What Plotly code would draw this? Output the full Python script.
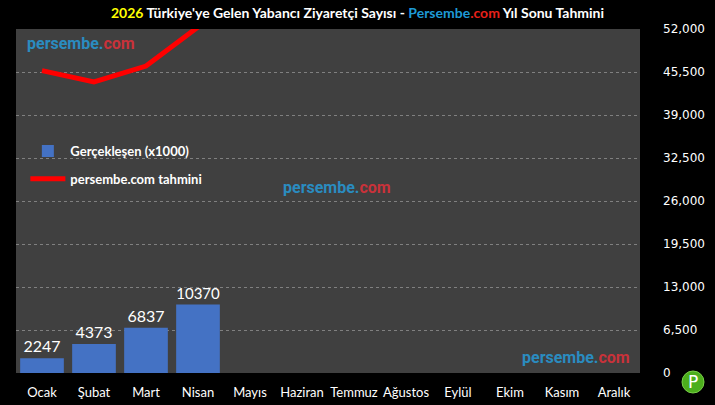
import plotly.graph_objects as go

months = ["Ocak", "Şubat", "Mart", "Nisan", "Mayıs", "Haziran", "Temmuz",
          "Ağustos", "Eylül", "Ekim", "Kasım", "Aralık"]
actual = [2247, 4373, 6837, 10370]
forecast = [45700, 44000, 46400, 52300]
y_ticks = [0, 6500, 13000, 19500, 26000, 32500, 39000, 45500, 52000]

FONT = "Lato, Roboto, sans-serif"

fig = go.Figure()
fig.add_trace(go.Bar(
    x=months[:len(actual)], y=actual, name="Gerçekleşen (x1000)",
    marker=dict(color="#4472c4", line=dict(width=0)),
    text=[str(v) for v in actual], textposition="outside",
    textfont=dict(color="white", size=16, family=FONT),
    cliponaxis=False, legendgroup="a",
))
fig.add_trace(go.Scatter(
    x=months[:len(forecast)], y=forecast, name="persembe.com tahmini",
    mode="lines", line=dict(color="#ff0000", width=5), legendgroup="b",
))

title_html = ("<b><span style='color:#ffff00'>2026</span> Türkiye'ye Gelen Yabancı Ziyaretçi Sayısı - "
              "<span style='color:#1e9ad6'>Persembe</span><span style='color:#e8201a'>.com</span>"
              " Yıl Sonu Tahmini</b>")

wm = "<b><span style='color:#2a8cc0'>persembe.</span><span style='color:#c8323a'>com</span></b>"

fig.update_layout(
    width=715, height=405,
    paper_bgcolor="black", plot_bgcolor="#404040",
    margin=dict(l=16, r=75, t=29, b=32),
    title=dict(text=title_html, x=0.5, xanchor="center", y=1 - 13 / 405, yanchor="middle",
               font=dict(color="white", size=14, family=FONT)),
    bargap=0.16,
    showlegend=True,
    legend=dict(x=0.015, y=(373 - 136) / 344, xanchor="left", yanchor="top",
                bgcolor="rgba(0,0,0,0)", traceorder="grouped", tracegroupgap=8,
                font=dict(color="white", size=13, family=FONT, weight="bold"),
                itemwidth=35),
    xaxis=dict(categoryorder="array", categoryarray=months, range=[-0.5, 11.5],
               tickfont=dict(color="white", size=13, family=FONT), automargin=False,
               showgrid=False, showline=False, ticks="", ticklabelstandoff=10),
    yaxis=dict(side="right", range=[0, 52000], tickvals=y_ticks, tickformat=",",
               tickfont=dict(color="white", size=12, family="DejaVu Sans"), automargin=False,
               showgrid=True, gridcolor="#808080", griddash="dot", gridwidth=1,
               zeroline=False, ticks="", ticklabelstandoff=22),
    annotations=[
        dict(text=wm, xref="paper", yref="paper", x=(25 - 16) / 624, y=(373 - 44) / 344,
             xanchor="left", yanchor="middle", showarrow=False,
             font=dict(size=16, family="Roboto")),
        dict(text=wm, xref="paper", yref="paper", x=(337 - 16) / 624, y=(373 - 187) / 344,
             xanchor="center", yanchor="middle", showarrow=False,
             font=dict(size=16, family="Roboto")),
        dict(text=wm, xref="paper", yref="paper", x=(576 - 16) / 624, y=(373 - 357) / 344,
             xanchor="center", yanchor="middle", showarrow=False,
             font=dict(size=16, family="Roboto")),
        dict(text="P", xref="paper", yref="paper", x=(693 - 16) / 624, y=(373 - 382) / 344,
             xanchor="center", yanchor="middle", showarrow=False,
             font=dict(size=17, family="DejaVu Sans", color="white")),
    ],
    shapes=[
        dict(type="circle", xref="paper", yref="paper",
             x0=(682 - 16) / 624, x1=(704 - 16) / 624,
             y0=(373 - 393) / 344, y1=(373 - 371) / 344,
             fillcolor="#4cae1c", line=dict(color="#7ad04a", width=1), layer="below"),
    ],
)

fig.write_html("out.html", config={"displayModeBar": False},
               post_script="document.body.style.margin='0';document.body.style.background='black';")
